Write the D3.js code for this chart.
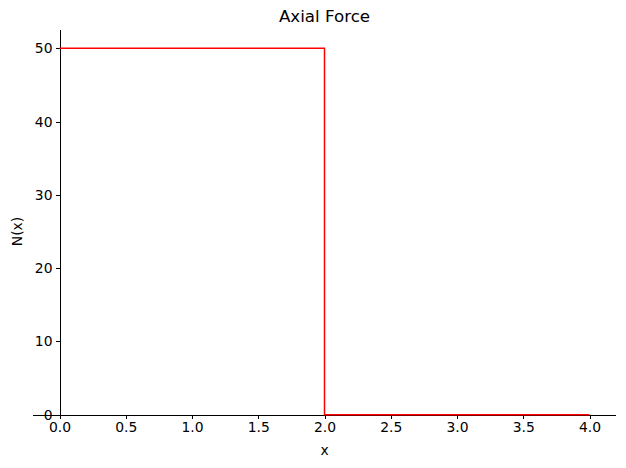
<!DOCTYPE html>
<html><head><meta charset="utf-8">
<script src="https://cdn.jsdelivr.net/npm/d3@7"></script>
<style>body{margin:0;background:#fff}svg{display:block;font-family:"DejaVu Sans",sans-serif}</style>
</head><body>
<script>
const xValues = [0, 2, 2, 4];
const nValues = [50, 50, 0, 0];
const xTicks = [0, 0.5, 1, 1.5, 2, 2.5, 3, 3.5, 4];
const yTicks = [0, 10, 20, 30, 40, 50];
const title = "Axial Force";
const xLabel = "x";
const yLabel = "N(x)";

const W = 626, H = 468;
const mLeft = 33, mRight = 616, mTop = 30, mBottom = 433;
const svg = d3.select("body").append("svg").attr("width", W).attr("height", H);
const x = d3.scaleLinear().domain([-0.2, 4.2]).range([mLeft, mRight]);
const y = d3.scaleLinear().domain([-2.5, 52.5]).range([mBottom, mTop]);

// bottom axis at y=0
const gx = svg.append("g").attr("transform", `translate(0,${Math.round(y(0))})`)
  .call(d3.axisBottom(x).tickValues(xTicks).tickFormat(d3.format(".1f")).tickSize(4).tickPadding(3.5).tickSizeOuter(0));
gx.select(".domain").attr("d", `M${mLeft},0.5H${mRight}`).attr("stroke", "#000").attr("stroke-width", 1).attr("shape-rendering", "crispEdges");
gx.selectAll(".tick line").attr("stroke", "#000").attr("stroke-width", 1).attr("shape-rendering", "crispEdges");
gx.selectAll(".tick text").attr("font-size", "13.9px").attr("fill", "#000").attr("font-family", "DejaVu Sans");

// left axis at x=0
const gy = svg.append("g").attr("transform", `translate(${Math.round(x(0))},0)`)
  .call(d3.axisLeft(y).tickValues(yTicks).tickFormat(d3.format("d")).tickSize(4).tickPadding(3.5).tickSizeOuter(0));
gy.select(".domain").attr("d", `M0.5,${mTop}V${y(0) + 0.5}`).attr("stroke", "#000").attr("stroke-width", 1).attr("shape-rendering", "crispEdges");
gy.selectAll(".tick line").attr("stroke", "#000").attr("stroke-width", 1).attr("shape-rendering", "crispEdges");
gy.selectAll(".tick text").attr("font-size", "13.9px").attr("fill", "#000").attr("font-family", "DejaVu Sans");

// data line
const line = d3.line().x((d, i) => x(xValues[i])).y((d, i) => y(nValues[i]));
svg.append("path").datum(xValues).attr("d", line)
  .attr("fill", "none").attr("stroke", "#ff0000").attr("stroke-width", 1.5);

// title and labels
svg.append("text").attr("x", (mLeft + mRight) / 2).attr("y", 22).attr("text-anchor", "middle")
  .attr("font-size", "16.7px").attr("fill", "#000").text(title);
svg.append("text").attr("x", x(2)).attr("y", 455).attr("text-anchor", "middle")
  .attr("font-size", "13.9px").attr("fill", "#000").text(xLabel);
svg.append("text").attr("transform", `translate(22,${(mTop + mBottom) / 2}) rotate(-90)`).attr("text-anchor", "middle")
  .attr("font-size", "13.9px").attr("fill", "#000").text(yLabel);
</script>
</body></html>
